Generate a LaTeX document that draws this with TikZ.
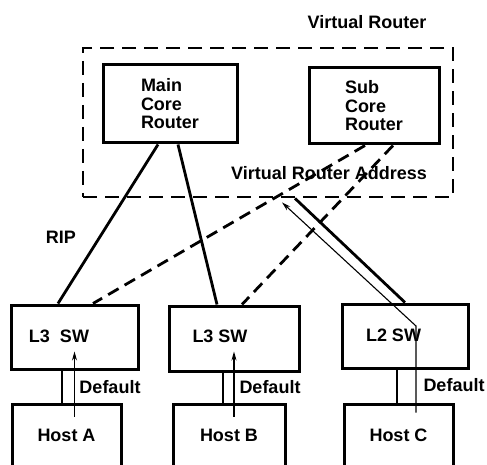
\documentclass[tikz,border=0pt]{standalone}
\usepackage{fontspec}
\setmainfont{Liberation Sans}
\usetikzlibrary{arrows.meta}
\begin{document}
\begin{tikzpicture}[x=1pt,y=-1pt,
  lbl/.style={font=\fontsize{18}{18.5}\selectfont\bfseries, inner sep=0pt},
  box/.style={draw, line width=3pt, inner sep=0pt, font=\fontsize{18}{18.5}\selectfont\bfseries},
  link/.style={line width=2.8pt},
  dlink/.style={line width=2.8pt, dash pattern=on 12pt off 7pt},
  fine/.style={line width=1.1pt},
  tip/.style={-{Stealth[length=9pt,width=5pt]}}]
\clip (0,0) rectangle (487,465);
\fill[white] (0,0) rectangle (487,465);

% virtual router enclosure
\node[draw, line width=2.8pt, dash pattern=on 14pt off 8pt,
      minimum width=370pt, minimum height=149pt] (vr) at (268,122.5) {};
\node[lbl] (vrtxt) at (367,22) {Virtual Router};
\node[lbl] (vratxt) at (329,173) {Virtual Router Address};

% core routers
\node[box, align=left, minimum width=134pt, minimum height=78pt] (main) at (170,104) {Main\\Core\\Router};
\node[box, align=left, minimum width=130pt, minimum height=76pt] (sub) at (374,106) {Sub\\Core\\Router};

% switches
\node[box, minimum width=127pt, minimum height=64pt] (l3a) at (74.5,337) {};
\node[box, minimum width=130pt, minimum height=65pt] (l3b) at (234,338.5) {};
\node[box, minimum width=126pt, minimum height=64pt] (l2) at (405,336) {};
\node[lbl] (l3atxt) at (59,336) {L3\ \ SW};
\node[lbl] (l3btxt) at (220,336) {L3 SW};
\node[lbl] (l2txt) at (393.5,335) {L2 SW};

% hosts
\node[box, minimum width=109pt, minimum height=62pt] (hosta) at (66.5,435) {Host A};
\node[box, minimum width=112pt, minimum height=62pt] (hostb) at (229,435) {Host B};
\node[box, minimum width=109pt, minimum height=62pt] (hostc) at (398.5,435) {Host C};

% labels
\node[lbl] (rip) at (61,237) {RIP};
\node[lbl] (defa) at (110,387) {Default};
\node[lbl] (defb) at (270,387) {Default};
\node[lbl] (defc) at (454,385) {Default};

% RIP links from the main router
\draw[link] ([xshift=-12pt]main.south) -- ([xshift=-16.5pt]l3a.north);
\draw[link] ([xshift=8pt]main.south) -- ([xshift=-17pt]l3b.north);
% standby links from the sub router
\draw[dlink] ([xshift=-9pt]sub.south) -- ([xshift=18.5pt]l3a.north);
\draw[dlink] ([xshift=19pt]sub.south) -- ([xshift=8pt]l3b.north);
% L2 switch uplink
\draw[link] ([xshift=27pt]vr.south) -- (l2.north);

% host links
\draw[link] ([xshift=-12.5pt]l3a.south) -- ([xshift=-4.5pt]hosta.north);
\draw[link] ([xshift=-11pt]l3b.south) -- ([xshift=-6pt]hostb.north);
\draw[link] ([xshift=-8pt]l2.south) -- ([xshift=-1.5pt]hostc.north);

% default routes
\draw[fine, tip] ([xshift=8pt,yshift=-14pt]hosta.north) -- ([yshift=19pt]l3a.south);
\draw[fine, tip] ([xshift=5pt,yshift=-14pt]hostb.north) -- ([yshift=21pt]l3b.south);
\coordinate (vra) at ([xshift=14pt,yshift=-4pt]vr.south);
\coordinate (bend) at ([xshift=11pt,yshift=10pt]l2.center);
\draw[fine, tip] ([xshift=17.5pt,yshift=-10pt]hostc.north) -- (bend) -- (vra);
\end{tikzpicture}
\end{document}
